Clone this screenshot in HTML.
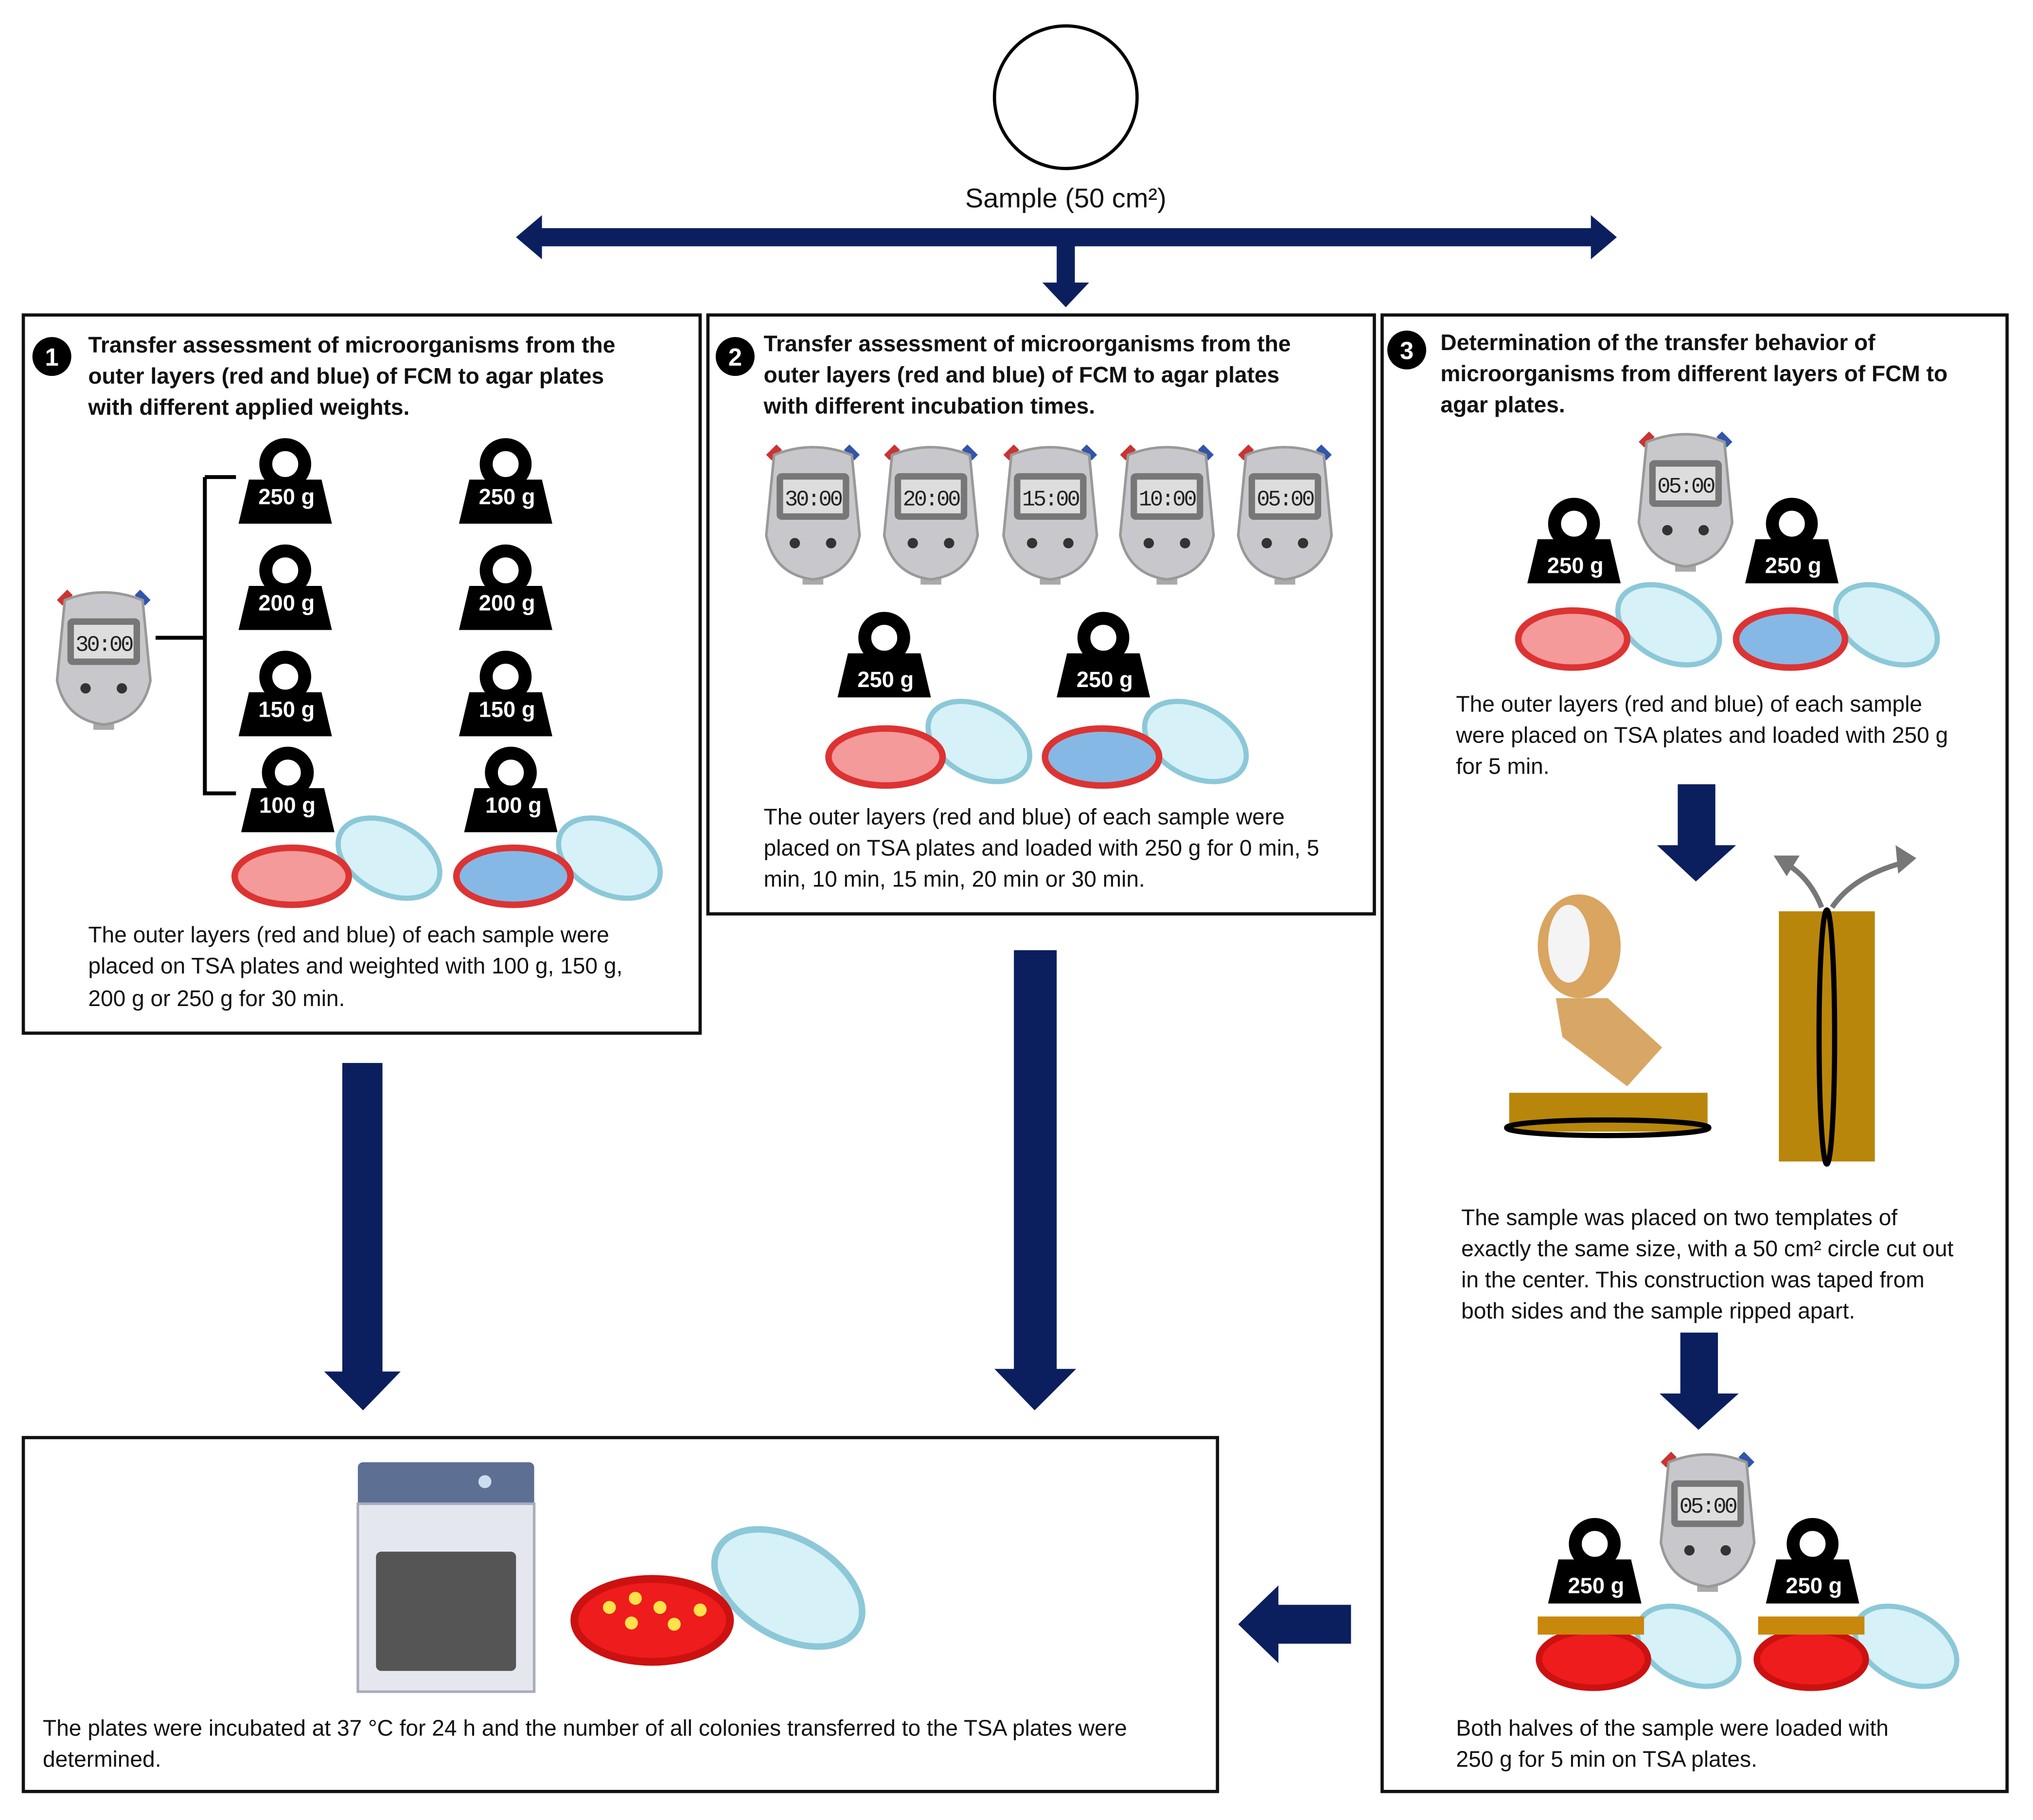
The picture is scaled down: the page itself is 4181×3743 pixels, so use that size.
<!DOCTYPE html>
<html><head><meta charset="utf-8"><style>
html,body{margin:0;padding:0;background:#fff}
svg{display:block}
text{font-family:"Liberation Sans",sans-serif}
.t{font-size:17.3px;fill:#111}
.h{font-size:17.3px;font-weight:bold;fill:#111}
.w{font-size:17px;font-weight:bold;fill:#fff}
.d{font-family:"Liberation Mono",monospace;font-size:17px;fill:#222;letter-spacing:-1.5px}
</style></head><body>
<svg width="4181" height="3743" viewBox="0 0 1568 1404" preserveAspectRatio="none" xmlns="http://www.w3.org/2000/svg">
<defs>
<g id="wt"><circle cx="0" cy="-24" r="15" fill="none" stroke="#000" stroke-width="10"/><polygon points="-28,-12 28,-12 36,22 -36,22" fill="#000"/></g>
<g id="sw"><rect x="-8" y="48" width="16" height="10" fill="#aaa"/><path d="M-26,-48 L-34,-40" stroke="#c33" stroke-width="6"/><path d="M26,-48 L34,-40" stroke="#35a" stroke-width="6"/><path d="M-30,-42 Q0,-54 30,-42 L36,20 Q30,50 0,54 Q-30,50 -36,20 Z" fill="#c8c8cc" stroke="#999" stroke-width="2"/><rect x="-28" y="-28" width="56" height="36" rx="4" fill="#777"/><rect x="-23" y="-23" width="46" height="26" fill="#ddd"/><circle cx="-14" cy="26" r="4" fill="#333"/><circle cx="14" cy="26" r="4" fill="#333"/></g>
<g id="lid"><ellipse cx="0" cy="0" rx="42" ry="27" fill="#d6f1f7" stroke="#8cc8d8" stroke-width="4" transform="rotate(28)"/></g>
</defs>
<circle cx="822" cy="75" r="55" fill="none" stroke="#000" stroke-width="2.5"/>
<text x="822" y="160" text-anchor="middle" font-size="21" fill="#111">Sample (50 cm²)</text>
<g fill="#0b1f5e">
<rect x="415" y="176" width="815" height="14"/><polygon points="398,183 418,166 418,200"/><polygon points="1247,183 1227,166 1227,200"/>
<rect x="815" y="188" width="14" height="32"/><polygon points="804,218 840,218 822,237"/>
<rect x="264" y="820" width="31" height="240"/><polygon points="250,1058 309,1058 280,1088"/>
<rect x="782" y="733" width="33" height="325"/><polygon points="767,1056 830,1056 798,1088"/>
<rect x="1294" y="605" width="29" height="48"/><polygon points="1278,652 1339,652 1308,680"/>
<rect x="1296" y="1028" width="29" height="48"/><polygon points="1280,1075 1341,1075 1310,1103"/>
<rect x="985" y="1238" width="57" height="30"/><polygon points="986,1223 986,1283 955,1253"/>
</g>
<g fill="none" stroke="#111" stroke-width="2.5">
<rect x="18" y="243" width="522" height="554"/><rect x="546" y="243" width="514" height="462"/><rect x="1066" y="243" width="482" height="1139"/><rect x="18" y="1109" width="921" height="273"/>
</g>
<circle cx="40" cy="275" r="15" fill="#000"/><text x="40" y="282" text-anchor="middle" fill="#fff" font-weight="bold" font-size="19">1</text>
<text class="h"><tspan x="68" y="272">Transfer assessment of microorganisms from the</tspan><tspan x="68" y="296">outer layers (red and blue) of FCM to agar plates</tspan><tspan x="68" y="320">with different applied weights.</tspan></text>
<use href="#sw" x="80" y="505"/><text class="d" x="80" y="502" text-anchor="middle">30:00</text>
<path d="M120,492 H140 M158,368 H182 M182,612 H158 V368 M158,492 H140" stroke="#000" stroke-width="3" fill="none"/>
<use href="#wt" x="220" y="382"/><use href="#wt" x="220" y="464"/><use href="#wt" x="220" y="546"/><use href="#wt" x="222" y="620"/>
<use href="#wt" x="390" y="382"/><use href="#wt" x="390" y="464"/><use href="#wt" x="390" y="546"/><use href="#wt" x="394" y="620"/>
<text class="w" text-anchor="middle"><tspan x="221" y="389">250 g</tspan><tspan x="221" y="471">200 g</tspan><tspan x="221" y="553">150 g</tspan><tspan x="224" y="627">100 g</tspan>
<tspan x="391" y="389">250 g</tspan><tspan x="391" y="471">200 g</tspan><tspan x="391" y="553">150 g</tspan><tspan x="396" y="627">100 g</tspan></text>
<use href="#lid" x="300" y="662"/><ellipse cx="225" cy="676" rx="44" ry="22" fill="#f49a9a" stroke="#d33" stroke-width="5"/>
<use href="#lid" x="470" y="662"/><ellipse cx="396" cy="676" rx="44" ry="22" fill="#86b8e6" stroke="#d33" stroke-width="5"/>
<text class="t"><tspan x="68" y="727">The outer layers (red and blue) of each sample were</tspan><tspan x="68" y="751">placed on TSA plates and weighted with 100 g, 150 g,</tspan><tspan x="68" y="776">200 g or 250 g for 30 min.</tspan></text>
<circle cx="567" cy="275" r="15" fill="#000"/><text x="567" y="282" text-anchor="middle" fill="#fff" font-weight="bold" font-size="19">2</text>
<text class="h"><tspan x="589" y="271">Transfer assessment of microorganisms from the</tspan><tspan x="589" y="295">outer layers (red and blue) of FCM to agar plates</tspan><tspan x="589" y="319">with different incubation times.</tspan></text>
<use href="#sw" x="627" y="393"/><use href="#sw" x="718" y="393"/><use href="#sw" x="810" y="393"/><use href="#sw" x="900" y="393"/><use href="#sw" x="991" y="393"/>
<text class="d" text-anchor="middle"><tspan x="627" y="390">30:00</tspan><tspan x="718" y="390">20:00</tspan><tspan x="810" y="390">15:00</tspan><tspan x="900" y="390">10:00</tspan><tspan x="991" y="390">05:00</tspan></text>
<use href="#wt" x="682" y="516"/><use href="#wt" x="851" y="516"/>
<text class="w" text-anchor="middle"><tspan x="683" y="530">250 g</tspan><tspan x="852" y="530">250 g</tspan></text>
<use href="#lid" x="755" y="572"/><ellipse cx="683" cy="584" rx="44" ry="22" fill="#f49a9a" stroke="#d33" stroke-width="5"/>
<use href="#lid" x="922" y="572"/><ellipse cx="850" cy="584" rx="44" ry="22" fill="#86b8e6" stroke="#d33" stroke-width="5"/>
<text class="t"><tspan x="589" y="636">The outer layers (red and blue) of each sample were</tspan><tspan x="589" y="660">placed on TSA plates and loaded with 250 g for 0 min, 5</tspan><tspan x="589" y="684">min, 10 min, 15 min, 20 min or 30 min.</tspan></text>
<circle cx="1085" cy="270" r="15" fill="#000"/><text x="1085" y="277" text-anchor="middle" fill="#fff" font-weight="bold" font-size="19">3</text>
<text class="h"><tspan x="1111" y="270">Determination of the transfer behavior of</tspan><tspan x="1111" y="294">microorganisms from different layers of FCM to</tspan><tspan x="1111" y="318">agar plates.</tspan></text>
<use href="#sw" x="1300" y="383"/><text class="d" x="1300" y="380" text-anchor="middle">05:00</text>
<use href="#wt" x="1214" y="428"/><use href="#wt" x="1382" y="428"/>
<text class="w" text-anchor="middle"><tspan x="1215" y="442">250 g</tspan><tspan x="1383" y="442">250 g</tspan></text>
<use href="#lid" x="1287" y="482"/><ellipse cx="1213" cy="493" rx="42" ry="22" fill="#f49a9a" stroke="#d33" stroke-width="5"/>
<use href="#lid" x="1455" y="482"/><ellipse cx="1381" cy="493" rx="42" ry="22" fill="#86b8e6" stroke="#d33" stroke-width="5"/>
<text class="t"><tspan x="1123" y="549">The outer layers (red and blue) of each sample</tspan><tspan x="1123" y="573">were placed on TSA plates and loaded with 250 g</tspan><tspan x="1123" y="597">for 5 min.</tspan></text>
<ellipse cx="1218" cy="730" rx="32" ry="40" fill="#d9a560"/><ellipse cx="1210" cy="728" rx="16" ry="30" fill="#f4f4f4"/>
<polygon points="1200,770 1240,770 1282,808 1255,838 1205,800" fill="#d8a766"/>
<rect x="1164" y="843" width="153" height="30" fill="#b8860b"/><ellipse cx="1240" cy="870" rx="78" ry="6" fill="none" stroke="#000" stroke-width="4"/>
<rect x="1372" y="703" width="74" height="193" fill="#b8860b"/><ellipse cx="1409" cy="800" rx="6" ry="98" fill="none" stroke="#000" stroke-width="4"/>
<path d="M1405,700 Q1395,675 1375,665 M1413,700 Q1430,675 1470,665" stroke="#777" stroke-width="4" fill="none"/>
<polygon points="1368,660 1388,660 1378,676" fill="#777"/><polygon points="1478,662 1462,652 1464,674" fill="#777"/>
<text class="t"><tspan x="1127" y="945">The sample was placed on two templates of</tspan><tspan x="1127" y="969">exactly the same size, with a 50 cm² circle cut out</tspan><tspan x="1127" y="993">in the center. This construction was taped from</tspan><tspan x="1127" y="1017">both sides and the sample ripped apart.</tspan></text>
<use href="#sw" x="1317" y="1170"/><text class="d" x="1317" y="1167" text-anchor="middle">05:00</text>
<use href="#wt" x="1230" y="1215"/><use href="#wt" x="1398" y="1215"/>
<text class="w" text-anchor="middle"><tspan x="1231" y="1229">250 g</tspan><tspan x="1399" y="1229">250 g</tspan></text>
<use href="#lid" x="1302" y="1270"/><ellipse cx="1229" cy="1280" rx="42" ry="22" fill="#ee1c1c" stroke="#c11" stroke-width="5"/><rect x="1186" y="1247" width="82" height="14" fill="#c8880b"/>
<use href="#lid" x="1470" y="1270"/><ellipse cx="1397" cy="1280" rx="42" ry="22" fill="#ee1c1c" stroke="#c11" stroke-width="5"/><rect x="1356" y="1247" width="82" height="14" fill="#c8880b"/>
<text class="t"><tspan x="1123" y="1339">Both halves of the sample were loaded with</tspan><tspan x="1123" y="1363">250 g for 5 min on TSA plates.</tspan></text>
<rect x="276" y="1128" width="136" height="36" rx="4" fill="#5d6f93"/><rect x="276" y="1160" width="136" height="145" fill="#e4e8ee" stroke="#aab" stroke-width="2"/><rect x="290" y="1197" width="108" height="92" rx="4" fill="#555"/><circle cx="374" cy="1143" r="5" fill="#cde"/>
<g transform="translate(608,1225)"><ellipse cx="0" cy="0" rx="62" ry="38" fill="#d6f1f7" stroke="#8cc8d8" stroke-width="5" transform="rotate(30)"/></g>
<ellipse cx="503" cy="1250" rx="60" ry="32" fill="#ee1c1c" stroke="#c11" stroke-width="6"/>
<g fill="#ffe14a"><circle cx="470" cy="1240" r="5"/><circle cx="490" cy="1233" r="5"/><circle cx="509" cy="1240" r="5"/><circle cx="487" cy="1252" r="5"/><circle cx="520" cy="1253" r="5"/><circle cx="540" cy="1242" r="5"/></g>
<text class="t"><tspan x="33" y="1339">The plates were incubated at 37 °C for 24 h and the number of all colonies transferred to the TSA plates were</tspan><tspan x="33" y="1363">determined.</tspan></text>
</svg>
</body></html>
